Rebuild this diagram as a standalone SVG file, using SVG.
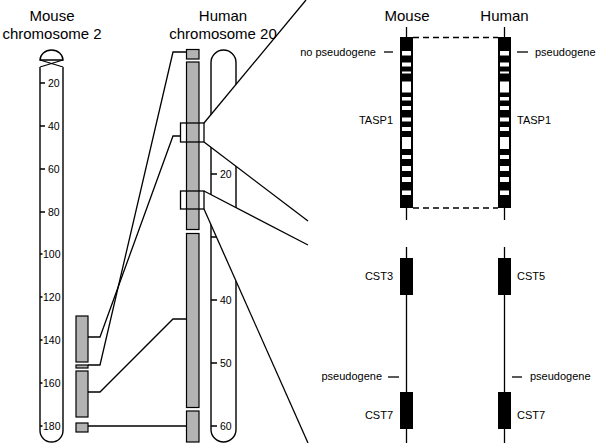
<svg xmlns="http://www.w3.org/2000/svg" width="600" height="443" viewBox="0 0 600 443">
<defs>
<style>
.t{font-family:"Liberation Sans",Arial,sans-serif;fill:#000}
.title{font-size:15px;text-anchor:middle}
.tk{font-size:10.5px}
.lab{font-size:11px}
.ln{stroke:#000;stroke-width:1.3;fill:none}
.out{stroke:#000;stroke-width:1.4;fill:#fff}
.gray{fill:#b3b3b3;stroke:#000;stroke-width:1.2}
.blk{fill:#000}
.wb{fill:#fff}
.dash{stroke:#000;stroke-width:1.3;stroke-dasharray:6 4;fill:none}
.wedge{fill:#fff;stroke:none}
</style>
</defs>
<rect width="600" height="443" fill="#fff"/>

<!-- Mouse chromosome 2 -->
<g id="mouse-chr2">
<path class="out" d="M40,60 A11.5,10 0 0 1 63,60 Z"/>
<path class="ln" d="M40,60 L63,67 M63,60 L40,67"/>
<path class="out" d="M40,67 V430.5 A11.5,11.5 0 0 0 63,430.5 V67"/>
<g class="ln">
<path d="M40,83 H45 M40,126 H45 M40,169 H45 M40,212 H45 M40,254 H42.5 M40,297 H42.5 M40,340 H42.5 M40,383 H42.5 M40,426 H42.5"/>
</g>
<text class="t tk" x="48" y="87">20</text>
<text class="t tk" x="48" y="130">40</text>
<text class="t tk" x="48" y="173">60</text>
<text class="t tk" x="48" y="216">80</text>
<text class="t tk" x="43" y="258">100</text>
<text class="t tk" x="43" y="301">120</text>
<text class="t tk" x="43" y="344">140</text>
<text class="t tk" x="43" y="387">160</text>
<text class="t tk" x="43" y="430">180</text>
</g>

<g id="mouse-blocks">
<rect class="gray" x="76" y="316" width="12" height="46"/>
<rect class="gray" x="76" y="365" width="12" height="3"/>
<rect class="gray" x="76" y="371" width="12" height="46"/>
<rect class="gray" x="76" y="423" width="12" height="9"/>
</g>

<!-- Human chromosome 20 -->
<g id="human-chr20">
<path class="out" d="M211,62.5 A12.5,12.5 0 0 1 236,62.5 V429.5 A12.5,12.5 0 0 1 211,429.5 Z"/>
<path class="ln" d="M211,174 H217 M211,237 H217 M211,300 H217 M211,363 H217 M211,426 H217"/>
<text class="t tk" x="220" y="178">20</text>
<text class="t tk" x="220" y="241">30</text>
<text class="t tk" x="220" y="304">40</text>
<text class="t tk" x="220" y="367">50</text>
<text class="t tk" x="220" y="430">60</text>
</g>

<g id="human-blocks">
<rect class="gray" x="186.5" y="49.5" width="12.5" height="9.5"/>
<rect class="gray" x="186.5" y="62" width="12.5" height="167.5"/>
<rect class="gray" x="186.5" y="233.5" width="12.5" height="174"/>
<rect class="gray" x="186.5" y="411" width="12.5" height="31"/>
</g>

<!-- connectors -->
<g id="connectors">
<path class="ln" d="M88,337 H100 L173,136 H181"/>
<path class="ln" d="M88,365 H100 L173,52 H187"/>
<path class="ln" d="M88,392 H100 L173,319 H187"/>
<path class="ln" d="M88,426 H187"/>
<polygon class="wedge" points="204,123 306,0 308,221 204,142"/>
<polygon class="wedge" points="204,191 308,245 308,443 204,209"/>
<path class="ln" d="M204,123 L306,0"/>
<path class="ln" d="M204,142 L308,221"/>
<path class="ln" d="M204,191 L308,245"/>
<path class="ln" d="M204,209 L308,443"/>
<rect class="ln" x="180.5" y="123" width="23.5" height="19"/>
<rect class="ln" x="180.5" y="191" width="23.5" height="18"/>
<path class="dash" d="M413,37.5 H498 M413,208 H498"/>
</g>

<!-- titles -->
<g id="titles">
<text class="t title" x="52" y="21">Mouse</text>
<text class="t title" x="52" y="39">chromosome 2</text>
<text class="t title" x="223" y="21">Human</text>
<text class="t title" x="223" y="39">chromosome 20</text>
<text class="t title" x="407" y="21">Mouse</text>
<text class="t title" x="504.5" y="21">Human</text>
</g>

<!-- TASP1 mouse -->
<g id="tasp1-mouse">
<path class="ln" d="M406.5,27 V220"/>
<rect class="blk" x="400" y="37" width="13" height="171"/>
<g class="wb">
<rect x="402" y="51" width="9" height="4.5"/>
<rect x="402" y="62.5" width="9" height="4"/>
<rect x="402" y="71.5" width="9" height="2"/>
<rect x="402" y="81.5" width="9" height="11"/>
<rect x="402" y="97" width="9" height="3.5"/>
<rect x="402" y="106" width="9" height="4"/>
<rect x="402" y="117.5" width="9" height="4"/>
<rect x="402" y="127" width="9" height="4"/>
<rect x="402" y="137" width="9" height="12"/>
<rect x="402" y="155" width="9" height="4"/>
<rect x="402" y="166" width="9" height="5"/>
<rect x="402" y="177" width="9" height="5"/>
<rect x="402" y="190.5" width="9" height="4.5"/>
</g>
<text class="t lab" x="376" y="56" text-anchor="end">no pseudogene</text>
<path class="ln" d="M384,52 H393"/>
<text class="t lab" x="393" y="124" text-anchor="end">TASP1</text>
</g>

<!-- TASP1 human -->
<g id="tasp1-human">
<path class="ln" d="M504.5,27 V220"/>
<rect class="blk" x="498" y="37" width="13" height="171"/>
<g class="wb">
<rect x="500" y="51" width="9" height="4.5"/>
<rect x="500" y="62.5" width="9" height="4"/>
<rect x="500" y="71.5" width="9" height="2"/>
<rect x="500" y="81.5" width="9" height="11"/>
<rect x="500" y="97" width="9" height="3.5"/>
<rect x="500" y="106" width="9" height="4"/>
<rect x="500" y="117.5" width="9" height="4"/>
<rect x="500" y="127" width="9" height="4"/>
<rect x="500" y="137" width="9" height="12"/>
<rect x="500" y="155" width="9" height="4"/>
<rect x="500" y="166" width="9" height="5"/>
<rect x="500" y="177" width="9" height="5"/>
<rect x="500" y="190.5" width="9" height="4.5"/>
</g>
<path class="ln" d="M517,52 H528"/>
<text class="t lab" x="535" y="56">pseudogene</text>
<text class="t lab" x="517" y="124">TASP1</text>
</g>

<!-- CST mouse -->
<g id="cst-mouse">
<path class="ln" d="M406.5,247 V443"/>
<rect class="blk" x="400" y="258" width="13" height="37"/>
<rect class="blk" x="400" y="392" width="13" height="37"/>
<text class="t lab" x="393" y="280" text-anchor="end">CST3</text>
<text class="t lab" x="382" y="380" text-anchor="end">pseudogene</text>
<path class="ln" d="M388,377 H399"/>
<text class="t lab" x="393" y="419" text-anchor="end">CST7</text>
</g>

<!-- CST human -->
<g id="cst-human">
<path class="ln" d="M504.5,247 V443"/>
<rect class="blk" x="498" y="258" width="13" height="37"/>
<rect class="blk" x="498" y="392" width="13" height="37"/>
<text class="t lab" x="517" y="280">CST5</text>
<path class="ln" d="M512,377 H522"/>
<text class="t lab" x="530" y="380">pseudogene</text>
<text class="t lab" x="517" y="419">CST7</text>
</g>
</svg>
